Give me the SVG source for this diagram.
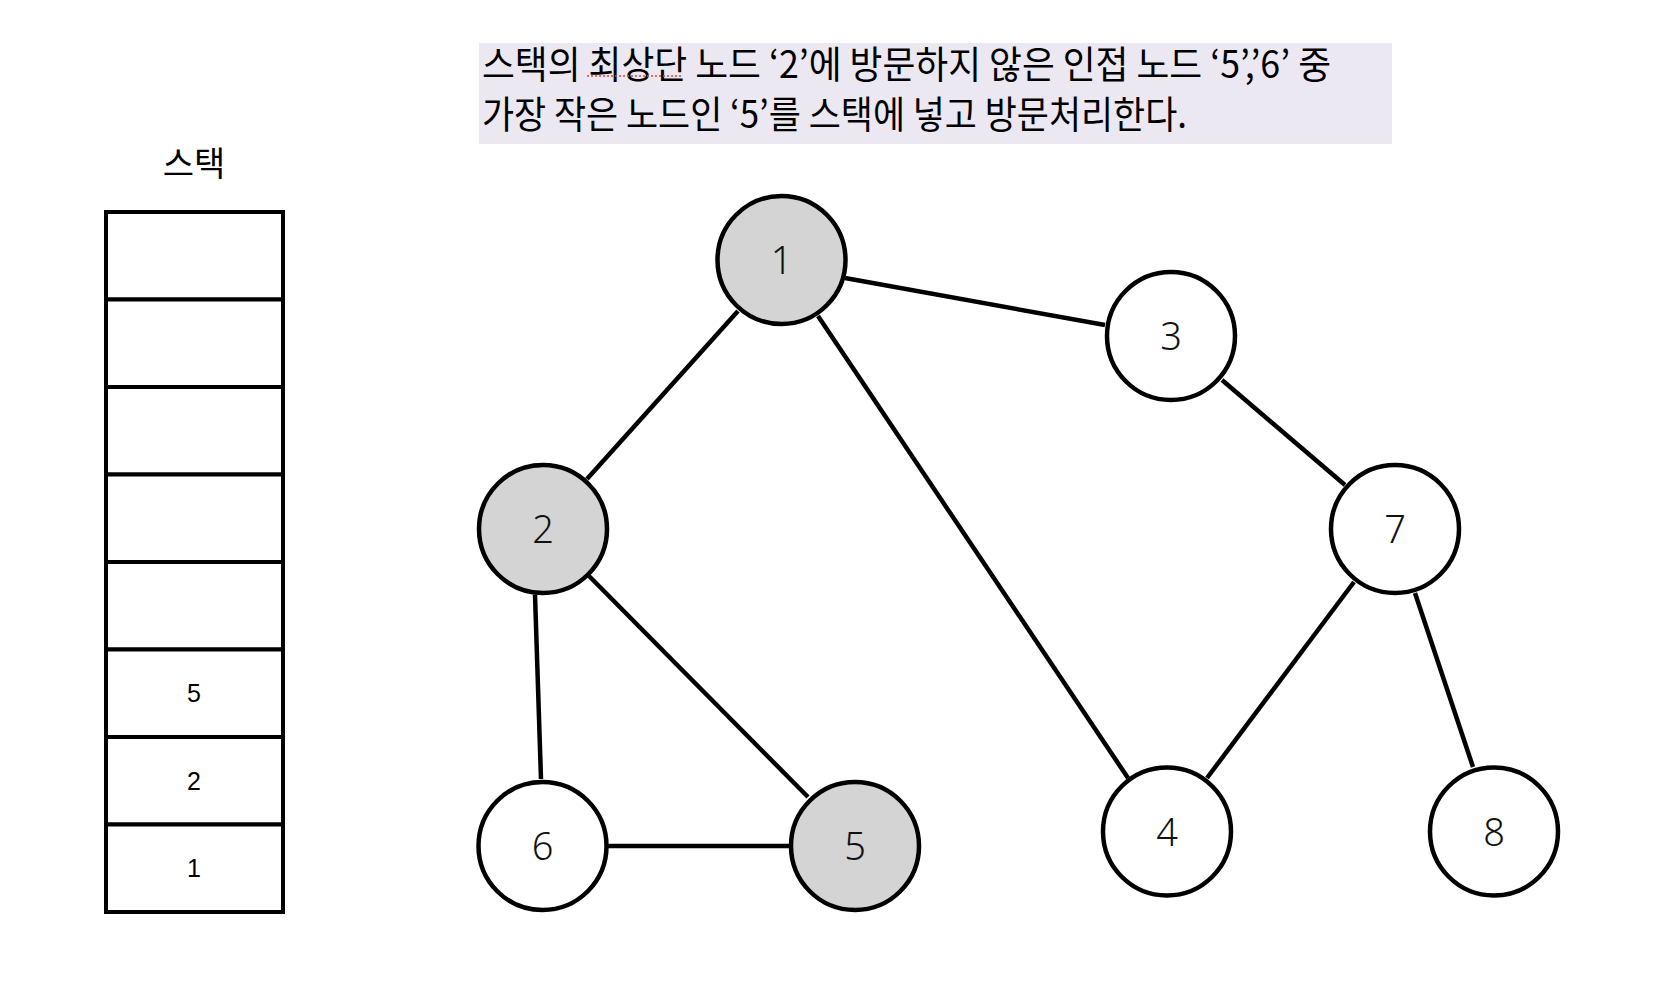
<svg xmlns="http://www.w3.org/2000/svg" width="1672" height="986" viewBox="0 0 1672 986">
<style>
.node circle{stroke:#000;stroke-width:4.5;fill:#fff}
.node.v circle{fill:#d4d4d4}
.node text{font-family:"Noto Sans","DejaVu Sans",sans-serif;font-weight:300;font-size:38px;text-anchor:middle;fill:#111}
.edge{stroke:#000;stroke-width:4.5;fill:none}
.cell{fill:#fff;stroke:#000;stroke-width:4}
.sv{font-family:"Liberation Sans",Arial,sans-serif;font-size:25px;text-anchor:middle;fill:#000}
.kr{font-family:"Noto Sans CJK KR","Noto Sans",sans-serif;fill:#000}
</style>
<rect width="1672" height="986" fill="#fff"/>
<g id="caption">
<rect x="479" y="43" width="913" height="101" fill="#ebe8f2"/>
<text class="kr" x="482" y="78" font-size="38" textLength="849" lengthAdjust="spacingAndGlyphs">스택의 최상단 노드 ‘2’에 방문하지 않은 인접 노드 ‘5’,’6’ 중</text>
<text class="kr" x="482" y="128" font-size="38" textLength="705" lengthAdjust="spacingAndGlyphs">가장 작은 노드인 ‘5’를 스택에 넣고 방문처리한다.</text>
<line x1="587" y1="76" x2="682" y2="76" stroke="#e04040" stroke-width="1.5" stroke-dasharray="2,2"/>
</g>
<g id="stack">
<text class="kr" x="194" y="176" font-size="34" text-anchor="middle">스택</text>
<rect class="cell" x="106" y="212" width="177" height="87.5"/>
<rect class="cell" x="106" y="299.5" width="177" height="87.5"/>
<rect class="cell" x="106" y="387" width="177" height="87.5"/>
<rect class="cell" x="106" y="474.5" width="177" height="87.5"/>
<rect class="cell" x="106" y="562" width="177" height="87.5"/>
<rect class="cell" x="106" y="649.5" width="177" height="87.5"/>
<rect class="cell" x="106" y="737" width="177" height="87.5"/>
<rect class="cell" x="106" y="824.5" width="177" height="87.5"/>
<text class="sv" x="194" y="702">5</text>
<text class="sv" x="194" y="789.5">2</text>
<text class="sv" x="194" y="877">1</text>
</g>
<g id="edges">
<line class="edge" x1="738" y1="311" x2="587" y2="479"/>
<line class="edge" x1="845" y1="278" x2="1105" y2="325"/>
<line class="edge" x1="818" y1="316" x2="1128" y2="778"/>
<line class="edge" x1="535" y1="595" x2="541" y2="779"/>
<line class="edge" x1="589" y1="576" x2="808" y2="797"/>
<line class="edge" x1="608" y1="846" x2="789" y2="846"/>
<line class="edge" x1="1222" y1="380" x2="1345" y2="485"/>
<line class="edge" x1="1354" y1="582" x2="1207" y2="778"/>
<line class="edge" x1="1415" y1="593" x2="1473" y2="767"/>
</g>
<g id="n1" class="node v"><circle cx="781.5" cy="260" r="64"/><text x="781.5" y="274">1</text></g>
<g id="n2" class="node v"><circle cx="543" cy="529" r="64"/><text x="543" y="543">2</text></g>
<g id="n3" class="node"><circle cx="1171" cy="336" r="64"/><text x="1171" y="350">3</text></g>
<g id="n4" class="node"><circle cx="1167" cy="831.5" r="64"/><text x="1167" y="845.5">4</text></g>
<g id="n5" class="node v"><circle cx="855" cy="846" r="64"/><text x="855" y="860">5</text></g>
<g id="n6" class="node"><circle cx="542.5" cy="846" r="64"/><text x="542.5" y="860">6</text></g>
<g id="n7" class="node"><circle cx="1395" cy="529" r="64"/><text x="1395" y="543">7</text></g>
<g id="n8" class="node"><circle cx="1494" cy="831.5" r="64"/><text x="1494" y="845.5">8</text></g>
</svg>
